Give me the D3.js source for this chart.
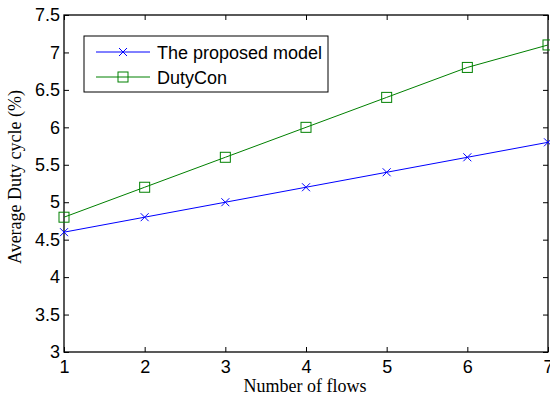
<!DOCTYPE html>
<html>
<head>
<meta charset="utf-8">
<script src="https://cdn.jsdelivr.net/npm/d3@7"></script>
<style>
body { margin: 0; background: #fff; }
</style>
</head>
<body>
<div id="chart"></div>
<script>
var flows = [1, 2, 3, 4, 5, 6, 7];
var proposed = [4.6, 4.8, 5.0, 5.2, 5.4, 5.6, 5.8];
var dutyCon = [4.8, 5.2, 5.6, 6.0, 6.4, 6.8, 7.1];
var yTicks = [3, 3.5, 4, 4.5, 5, 5.5, 6, 6.5, 7, 7.5];
var seriesNames = ["The proposed model", "DutyCon"];

var margin = {top: 15, right: 2, bottom: 47, left: 64};
var width = 548 - margin.left,
	height = 352 - margin.top;

var svg = d3.select("#chart").append("svg")
	.attr("width", 550)
	.attr("height", 399);

var g = svg.append("g")
	.attr("transform", "translate(" + margin.left + "," + margin.top + ")");

var x = d3.scaleLinear().domain([1, 7]).range([0, width]);
var y = d3.scaleLinear().domain([3, 7.5]).range([height, 0]);

// ticks inside the box, MATLAB style
var tickFont = "'Liberation Sans', Arial, sans-serif";
var titleFont = "'Liberation Serif', 'Times New Roman', serif";

g.append("g")
	.attr("transform", "translate(0," + height + ")")
	.call(d3.axisBottom(x).tickValues(flows).tickSizeInner(-5).tickSizeOuter(0).tickPadding(8).tickFormat(d3.format("d")));
g.append("g")
	.call(d3.axisLeft(y).tickValues(yTicks).tickSizeInner(-5).tickSizeOuter(0).tickPadding(4).tickFormat(function(d) { return d; }));

// top / right ticks
g.append("g")
	.call(d3.axisTop(x).tickValues(flows).tickSizeInner(-5).tickSizeOuter(0).tickFormat(""));
g.append("g")
	.attr("transform", "translate(" + width + ",0)")
	.call(d3.axisRight(y).tickValues(yTicks).tickSizeInner(-5).tickSizeOuter(0).tickFormat(""));

g.selectAll(".domain").remove();
g.selectAll(".tick line").attr("stroke", "#000");
g.selectAll(".tick text")
	.attr("font-size", "18px")
	.attr("font-family", tickFont)
	.attr("fill", "#000");

g.append("rect")
	.attr("x", 0).attr("y", 0)
	.attr("width", width).attr("height", height)
	.attr("fill", "none")
	.attr("stroke", "#000")
	.attr("stroke-width", 1.3);

var line = d3.line()
	.x(function(d, i) { return x(flows[i]); })
	.y(function(d) { return y(d); });

// DutyCon
g.append("path").datum(dutyCon)
	.attr("d", line)
	.attr("fill", "none")
	.attr("stroke", "#008000")
	.attr("stroke-width", 1);
g.selectAll(".sq").data(dutyCon).enter().append("rect")
	.attr("x", function(d, i) { return x(flows[i]) - 5; })
	.attr("y", function(d) { return y(d) - 5; })
	.attr("width", 10).attr("height", 10)
	.attr("fill", "none")
	.attr("stroke", "#008000")
	.attr("stroke-width", 1);

// proposed model
g.append("path").datum(proposed)
	.attr("d", line)
	.attr("fill", "none")
	.attr("stroke", "#0000ff")
	.attr("stroke-width", 1);
g.selectAll(".cross").data(proposed).enter().append("path")
	.attr("transform", function(d, i) { return "translate(" + x(flows[i]) + "," + y(d) + ")"; })
	.attr("d", "M-4,-4L4,4M-4,4L4,-4")
	.attr("stroke", "#0000ff")
	.attr("stroke-width", 1);

// legend
var legend = g.append("g").attr("transform", "translate(20,21)");
legend.append("rect")
	.attr("width", 244).attr("height", 56)
	.attr("fill", "#fff")
	.attr("stroke", "#000")
	.attr("stroke-width", 1);

var rows = legend.selectAll(".row").data(seriesNames).enter().append("g")
	.attr("transform", function(d, i) { return "translate(0," + (16 + i * 25) + ")"; });
rows.append("line")
	.attr("x1", 12).attr("x2", 66)
	.attr("stroke", function(d, i) { return i === 0 ? "#0000ff" : "#008000"; });
rows.filter(function(d, i) { return i === 0; }).append("path")
	.attr("d", "M35,-4L43,4M35,4L43,-4")
	.attr("stroke", "#0000ff");
rows.filter(function(d, i) { return i === 1; }).append("rect")
	.attr("x", 34).attr("y", -5).attr("width", 10).attr("height", 10)
	.attr("fill", "none").attr("stroke", "#008000");
rows.append("text")
	.attr("x", 73).attr("y", 6.5)
	.attr("font-size", "18px")
	.attr("font-family", tickFont)
	.text(function(d) { return d; });

// axis titles
svg.append("text")
	.attr("x", 305).attr("y", 392)
	.attr("text-anchor", "middle")
	.attr("font-size", "18px")
	.attr("font-family", titleFont)
	.text("Number of flows");
svg.append("text")
	.attr("transform", "translate(21,177) rotate(-90)")
	.attr("text-anchor", "middle")
	.attr("font-size", "18px")
	.attr("font-family", titleFont)
	.text("Average Duty cycle (%)");
</script>
</body>
</html>
